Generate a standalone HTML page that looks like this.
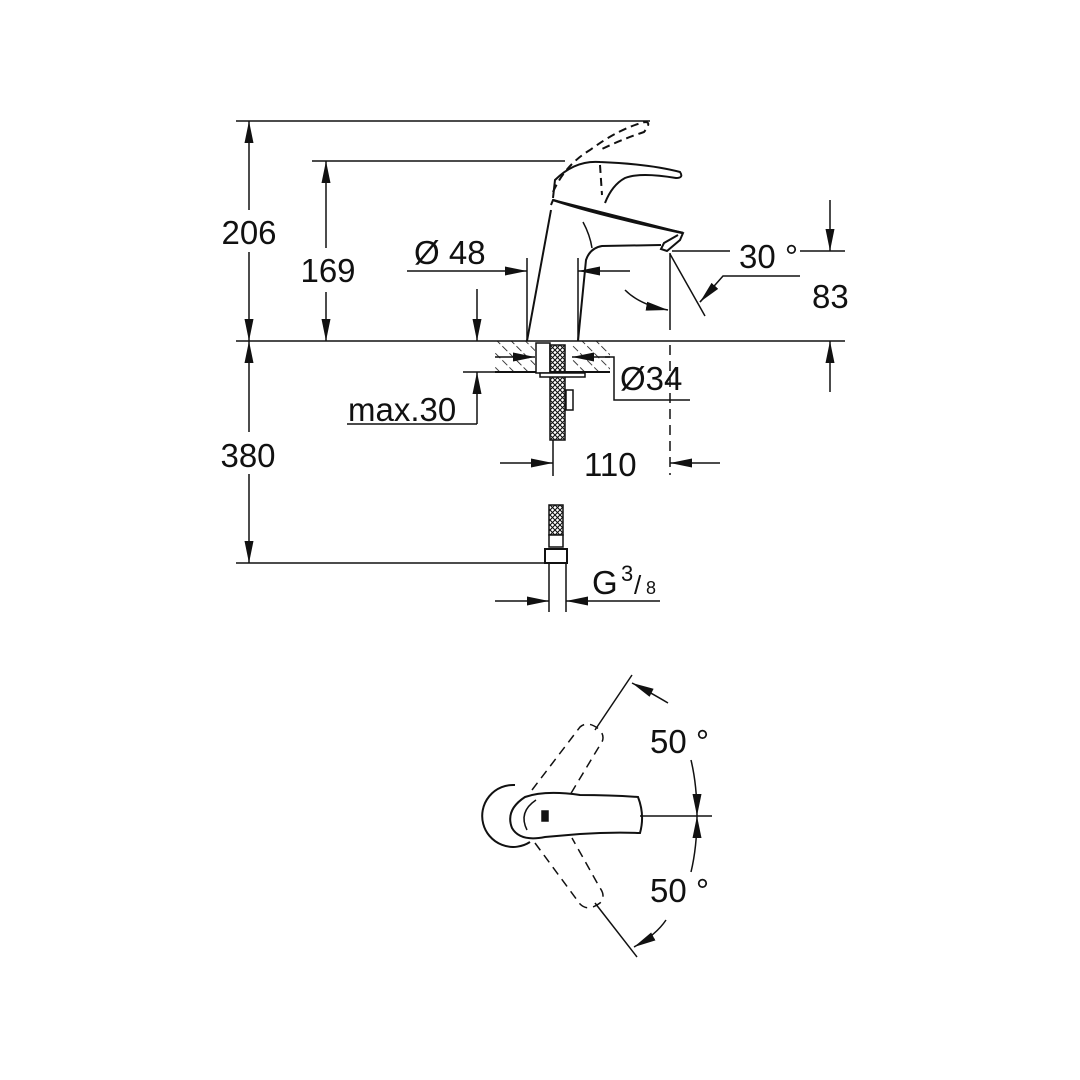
<!DOCTYPE html>
<html><head><meta charset="utf-8"><style>
html,body{margin:0;padding:0;background:#fff}
svg{display:block}
text{font-family:"Liberation Sans",Arial,sans-serif;fill:#111}
</style></head><body>
<svg width="1080" height="1080" viewBox="0 0 1080 1080" xmlns="http://www.w3.org/2000/svg">
<defs>
<marker id="a" viewBox="0 0 22 9" refX="22" refY="4.5" markerWidth="22" markerHeight="9" markerUnits="userSpaceOnUse" orient="auto"><path d="M0,0 L22,4.5 L0,9 Z" fill="#111"/></marker>
<pattern id="h" width="10" height="10" patternUnits="userSpaceOnUse" patternTransform="rotate(-45)"><line x1="0" y1="0" x2="0" y2="10" stroke="#111" stroke-width="1.6" stroke-dasharray="7 3"/></pattern>
<pattern id="x" width="5" height="5" patternUnits="userSpaceOnUse"><path d="M0,0 L5,5 M5,0 L0,5" stroke="#111" stroke-width="1.1"/></pattern>
</defs>
<g stroke="#111" stroke-width="1.5" fill="none">
<line x1="236" y1="121" x2="650" y2="121"/>
<line x1="312" y1="161" x2="565" y2="161"/>
<line x1="236" y1="341" x2="845" y2="341"/>
<line x1="236" y1="563" x2="548" y2="563"/>
<line x1="249" y1="210" x2="249" y2="121" marker-end="url(#a)"/>
<line x1="249" y1="252" x2="249" y2="341" marker-end="url(#a)"/>
<line x1="249" y1="432" x2="249" y2="341" marker-end="url(#a)"/>
<line x1="249" y1="474" x2="249" y2="563" marker-end="url(#a)"/>
<line x1="326" y1="248" x2="326" y2="161" marker-end="url(#a)"/>
<line x1="326" y1="292" x2="326" y2="341" marker-end="url(#a)"/>
<line x1="407" y1="271" x2="527" y2="271" marker-end="url(#a)"/>
<line x1="630" y1="271" x2="578" y2="271" marker-end="url(#a)"/>
<line x1="527" y1="258" x2="527" y2="341"/>
<line x1="578" y1="258" x2="578" y2="341"/>
<line x1="477" y1="289" x2="477" y2="341" marker-end="url(#a)"/>
<line x1="477" y1="424" x2="477" y2="372" marker-end="url(#a)"/>
<polyline points="347,424 477,424"/>
<line x1="463" y1="372" x2="495" y2="372"/>
<rect x="495" y="341" width="40" height="31" fill="url(#h)" stroke="none"/>
<rect x="572" y="341" width="38" height="31" fill="url(#h)" stroke="none"/>
<line x1="495" y1="372" x2="610" y2="372" stroke-width="2"/>
<rect x="536" y="343" width="14" height="30" fill="#fff"/>
<rect x="550" y="345" width="15" height="95" fill="url(#x)"/>
<rect x="540" y="373" width="45" height="4" fill="#fff"/>
<rect x="566" y="390" width="7" height="20" fill="#fff"/>
<line x1="495" y1="357" x2="535" y2="357" marker-end="url(#a)"/>
<line x1="610" y1="357" x2="572" y2="357" marker-end="url(#a)"/>
<polyline points="605,357 614,357 614,400 690,400"/>
<path d="M527,341 L551,210 M578,341 L586,260 Q590,248 602,246 L661,245" stroke-width="2"/>
<path d="M551,205 L553,200 L683,233 L680,240 L667,251 L661,249 L664,243 L678,235" stroke-width="2"/>
<path d="M553,200 Q598,215 683,233" stroke-width="2.5"/>
<path d="M583,222 Q590,235 592,248" stroke-width="1.5"/>
<path d="M553,198 L555,180 Q575,160 600,162 Q650,164 680,172 Q684,178 676,178 Q640,172 625,178 Q612,185 605,203" stroke-width="2"/>
<path d="M553,192 Q565,165 590,150 Q620,128 645,122 Q652,122 644,132 Q620,140 600,150 M600,165 L602,195" stroke-width="2" stroke-dasharray="8 5"/>
<line x1="670" y1="253" x2="670" y2="330"/>
<line x1="670" y1="345" x2="670" y2="475" stroke-dasharray="10 6"/>
<line x1="670" y1="254" x2="705" y2="316"/>
<path d="M625,290 Q640,305 668,310" marker-end="url(#a)"/>
<line x1="672" y1="251" x2="730" y2="251"/>
<line x1="800" y1="251" x2="845" y2="251"/>
<polyline points="800,276 723,276 700,302" />
<path d="M712,289 L700,302" marker-end="url(#a)"/>
<line x1="830" y1="200" x2="830" y2="251" marker-end="url(#a)"/>
<line x1="830" y1="392" x2="830" y2="341" marker-end="url(#a)"/>
<line x1="553" y1="440" x2="553" y2="476"/>
<line x1="500" y1="463" x2="553" y2="463" marker-end="url(#a)"/>
<line x1="720" y1="463" x2="670" y2="463" marker-end="url(#a)"/>
<rect x="549" y="505" width="14" height="30" fill="url(#x)"/>
<rect x="549" y="535" width="14" height="12" fill="#fff"/>
<rect x="545" y="549" width="22" height="14" fill="#fff" stroke-width="2"/>
<line x1="549" y1="563" x2="549" y2="612"/>
<line x1="566" y1="563" x2="566" y2="612"/>
<line x1="495" y1="601" x2="549" y2="601" marker-end="url(#a)"/>
<line x1="660" y1="601" x2="566" y2="601" marker-end="url(#a)"/>
<path d="M515,785 A31,31 0 1 0 530,842" stroke-width="2"/>
<path d="M580,795 Q545,790 525,797 Q505,810 512,828 Q520,842 545,837 L580,834 Q610,832 640,833 Q645,815 638,797 Q610,795 580,795 Z" stroke-width="2"/>
<path d="M536,800 Q518,812 527,830" stroke-width="1.5"/>
<rect x="542" y="811" width="6" height="10" fill="#111"/>
<line x1="640" y1="816" x2="712" y2="816"/>
<line x1="595" y1="730" x2="632" y2="675"/>
<line x1="595" y1="903" x2="637" y2="957"/>
<path d="M532,790 L580,727 Q588,720 600,730 Q606,738 600,745 L570,795" stroke-dasharray="9 6"/>
<path d="M535,843 L580,904 Q588,912 600,903 Q606,896 600,888 L572,838" stroke-dasharray="9 6"/>
<path d="M668,703 Q646,690 632,683" marker-end="url(#a)"/>
<path d="M691,760 Q697,785 697,816" marker-end="url(#a)"/>
<path d="M691,872 Q697,847 697,816" marker-end="url(#a)"/>
<path d="M666,920 Q656,935 634,947" marker-end="url(#a)"/>
</g>
<g font-size="33">
<rect x="215" y="212" width="68" height="40" fill="#fff"/>
<text x="249" y="244" text-anchor="middle">206</text>
<rect x="215" y="435" width="68" height="38" fill="#fff"/>
<text x="248" y="467" text-anchor="middle">380</text>
<rect x="298" y="252" width="60" height="38" fill="#fff"/>
<text x="328" y="282" text-anchor="middle">169</text>
<text x="414" y="264">Ø 48</text>
<text x="348" y="421">max.30</text>
<text x="620" y="390">Ø34</text>
<text x="739" y="268">30 °</text>
<text x="812" y="308">83</text>
<text x="584" y="476">110</text>
<text x="592" y="594">G</text>
<text x="621" y="581" font-size="22">3</text>
<text x="634" y="594" font-size="26">/</text>
<text x="646" y="594" font-size="18">8</text>
<text x="650" y="753">50 °</text>
<text x="650" y="902">50 °</text>
</g>
</svg>
</body></html>
